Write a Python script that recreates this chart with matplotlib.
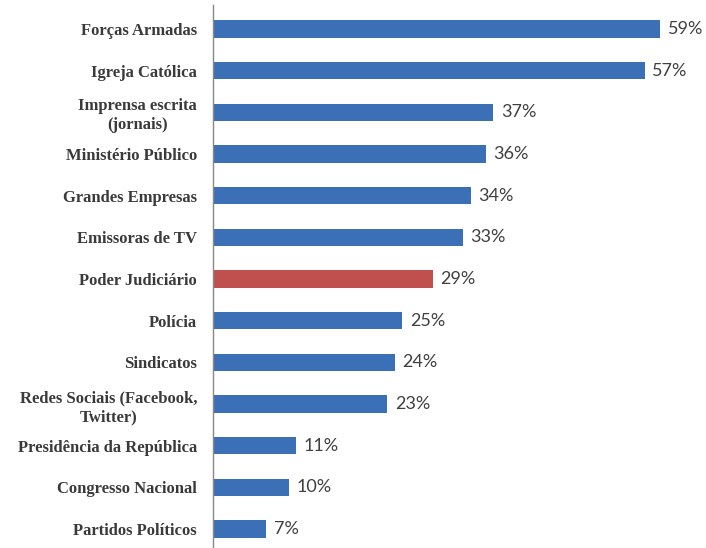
import matplotlib
matplotlib.use("Agg")
import matplotlib.pyplot as plt

categories = [
    "Forças Armadas",
    "Igreja Católica",
    "Imprensa escrita\n(jornais)",
    "Ministério Público",
    "Grandes Empresas",
    "Emissoras de TV",
    "Poder Judiciário",
    "Polícia",
    "Sindicatos",
    "Redes Sociais (Facebook,\nTwitter)",
    "Presidência da República",
    "Congresso Nacional",
    "Partidos Políticos",
]
values = [59, 57, 37, 36, 34, 33, 29, 25, 24, 23, 11, 10, 7]
highlight = "Poder Judiciário"

blue = "#3b6fb6"
red = "#c0504d"
colors = [red if c == highlight else blue for c in categories]

fig = plt.figure(figsize=(7.06, 5.48), dpi=100)
ax = fig.add_axes([213 / 706, 0, 493 / 706, 543 / 548])

pos = list(range(len(categories)))
ax.barh(pos, values, height=0.41, color=colors)

# percentage labels just past the end of each bar
for y, v in zip(pos, values):
    ax.text(v + 1.0, y, f"{v}%", va="center", ha="left",
            fontsize=13, color="#404040", family="Lato")

ax.set_xlim(0, 65.07)
ax.set_ylim(12.456, -0.576)
ax.set_yticks(pos)
ax.set_yticklabels(categories, fontsize=12, color="#3a3a3a",
                   family="Liberation Serif", fontweight="bold",
                   linespacing=1.25, multialignment="center")
ax.tick_params(axis="y", length=0, pad=11.5)
ax.set_xticks([])

for side in ["top", "right", "bottom"]:
    ax.spines[side].set_visible(False)
ax.spines["left"].set_color("#888888")
ax.spines["left"].set_linewidth(1)

fig.savefig("out.png", dpi=100)
